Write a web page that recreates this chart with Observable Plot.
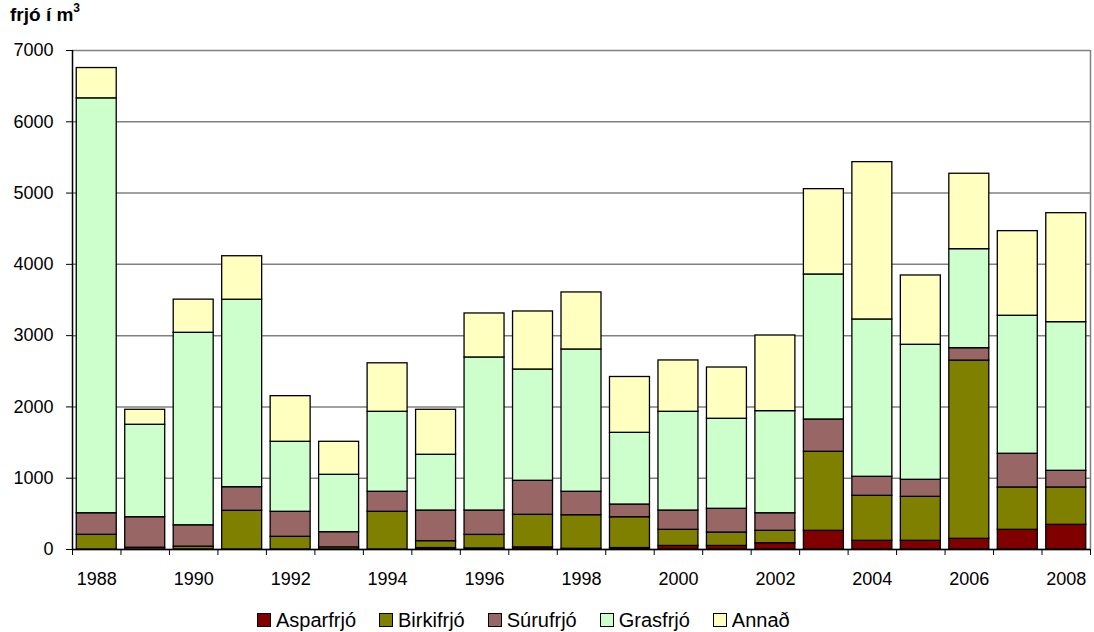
<!DOCTYPE html>
<html><head><meta charset="utf-8">
<script src="https://cdn.jsdelivr.net/npm/d3@7"></script>
<script src="https://cdn.jsdelivr.net/npm/@observablehq/plot@0.6"></script>
<style>
body{margin:0;background:#fff;font-family:"Liberation Sans",Arial,sans-serif;}
#wrap{position:relative;width:1094px;height:632px;overflow:hidden;}
#title{position:absolute;left:10px;top:3px;font-weight:bold;font-size:19px;color:#000;}
#title sup{font-size:12px;position:relative;top:-2px;}
#legend{position:absolute;left:257px;top:605px;height:30px;display:flex;align-items:center;font-size:20px;color:#000;}
#legend .item{display:flex;align-items:center;margin-right:23px;}
#legend .sw{width:12px;height:12px;border:1px solid #000;margin-right:5px;}
</style></head><body>
<div id="wrap"><div id="chart"></div><div id="title">frjó í m<sup>3</sup></div><div id="legend"></div></div>
<script>
const years = [1988,1989,1990,1991,1992,1993,1994,1995,1996,1997,1998,1999,2000,2001,2002,2003,2004,2005,2006,2007,2008];
const asparfrjo = [0,0,0,0,0,0,0,20,15,30,10,20,50,50,89,262,122,122,150,276,346];
const birkifrjo = [206,25,40,543,178,30,529,97,190,457,471,433,226,188,173,1109,631,617,2500,594,524];
const surufrjo  = [303,428,300,331,351,213,281,430,342,477,329,178,271,333,247,453,267,239,174,473,234];
const grasfrjo  = [5820,1297,2700,2630,982,805,1122,782,2147,1561,1996,1006,1385,1263,1432,2034,2207,1894,1389,1936,2085];
const annad     = [425,210,465,610,640,463,680,631,617,814,800,783,720,719,1061,1197,2207,972,1058,1187,1529];
const names = ["Asparfrjó","Birkifrjó","Súrufrjó","Grasfrjó","Annað"];
const colors = ["#800000","#808000","#996666","#ccffcc","#ffffc0"];
const yTicks = [0,1000,2000,3000,4000,5000,6000,7000];
const labelYears = [1988,1990,1992,1994,1996,1998,2000,2002,2004,2006,2008];

const seriesValues = [asparfrjo, birkifrjo, surufrjo, grasfrjo, annad];
const data = years.flatMap((y,i)=>names.map((n,k)=>({year:y, type:n, value:seriesValues[k][i]})));
const boundaries = [...years.map(y=>y-0.5), years[years.length-1]+0.5];
const font = "'Liberation Sans', Arial, sans-serif";

const chart = Plot.plot({
  width:1094, height:600,
  marginTop:50, marginLeft:72, marginRight:4, marginBottom:51,
  x:{domain:[boundaries[0], boundaries[boundaries.length-1]], label:null},
  y:{domain:[0,7000], label:null},
  color:{domain:names, range:colors},
  style:{fontFamily:font, fontSize:"18px", color:"#000", background:"#fff", overflow:"visible"},
  marks:[
    Plot.gridY(yTicks, {stroke:"#808080", strokeOpacity:1, strokeWidth:1.5}),
    Plot.ruleX([boundaries[boundaries.length-1]], {stroke:"#808080", strokeWidth:1.5}),
    Plot.rectY(data, {x1:d=>d.year-0.5, x2:d=>d.year+0.5, y:"value", fill:"type", z:"type", order:names,
      stroke:"#000", strokeWidth:1.3, insetLeft:4.25, insetRight:4.25}),
    Plot.axisY({ticks:yTicks, tickSize:6, tickPadding:13, tickFormat:d=>String(d), fontSize:18, stroke:"#000", label:null}),
    Plot.ruleY([0], {stroke:"#000", strokeWidth:1.5}),
    Plot.ruleX([boundaries[0]], {stroke:"#000", strokeWidth:1.5}),
    Plot.axisX({ticks:boundaries, tickSize:6, tickFormat:()=>"", stroke:"#000", label:null}),
    Plot.axisX({ticks:labelYears, tickSize:0, tickPadding:23, tickFormat:d=>String(d), fontSize:18, label:null})
  ]
});
document.getElementById("chart").appendChild(chart);

const legend = document.getElementById("legend");
names.forEach((n,k)=>{
  const it = document.createElement("div"); it.className="item";
  const sw = document.createElement("div"); sw.className="sw"; sw.style.background=colors[k];
  const tx = document.createElement("span"); tx.textContent=n;
  it.appendChild(sw); it.appendChild(tx); legend.appendChild(it);
});
</script>
</body></html>
